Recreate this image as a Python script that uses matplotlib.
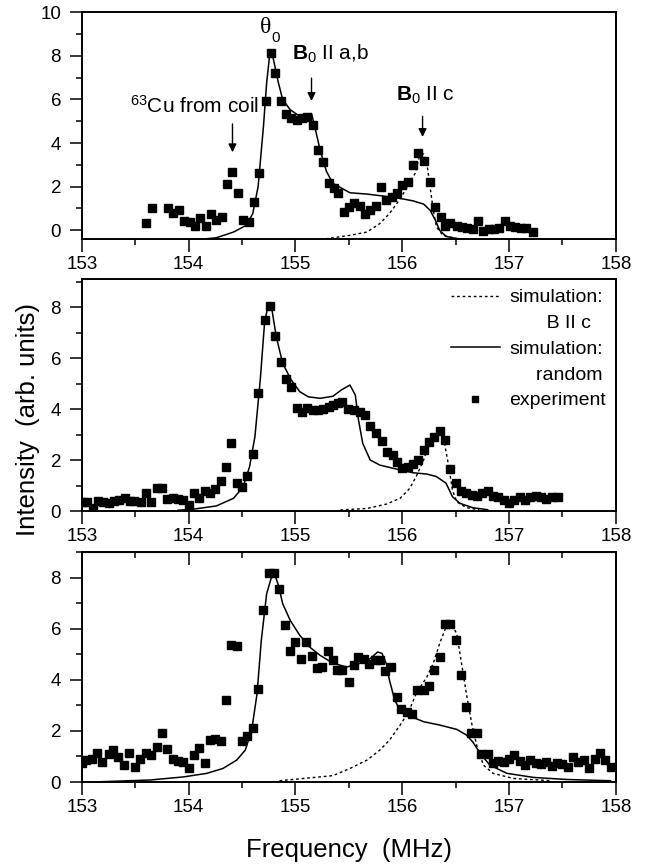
import matplotlib
matplotlib.use("Agg")
import matplotlib.pyplot as plt
from matplotlib.lines import Line2D
from matplotlib.ticker import MultipleLocator

plt.rcParams["font.family"] = ["Liberation Sans", "DejaVu Sans"]
plt.rcParams["mathtext.fontset"] = "custom"
plt.rcParams["mathtext.rm"] = "Liberation Sans"
plt.rcParams["mathtext.it"] = "Liberation Sans:italic"
plt.rcParams["mathtext.bf"] = "Liberation Sans:bold"

# ---- top panel ----
top_exp_f = [153.60, 153.66, 153.81, 153.85, 153.91, 153.96, 154.01, 154.06, 154.11, 154.16,
             154.21, 154.26, 154.31, 154.36, 154.41, 154.46, 154.51, 154.56, 154.61, 154.66,
             154.72, 154.77, 154.81, 154.86, 154.91, 154.96, 155.01, 155.06, 155.11, 155.16,
             155.21, 155.26, 155.31, 155.36, 155.40, 155.45, 155.50, 155.55, 155.60, 155.65,
             155.70, 155.75, 155.80, 155.85, 155.90, 155.95, 156.00, 156.05, 156.10, 156.15,
             156.20, 156.26, 156.31, 156.36, 156.40, 156.45, 156.51, 156.56, 156.61, 156.66,
             156.71, 156.76, 156.81, 156.86, 156.91, 156.96, 157.01, 157.06, 157.11, 157.16,
             157.22]
top_exp_i = [0.34, 1.0, 1.0, 0.77, 0.95, 0.43, 0.38, 0.22, 0.58, 0.22,
             0.74, 0.46, 0.61, 2.1, 2.67, 1.72, 0.49, 0.4, 1.3, 2.64,
             5.94, 8.14, 7.22, 5.91, 5.35, 5.15, 5.04, 5.15, 5.19, 4.84,
             3.69, 3.15, 2.15, 1.92, 1.72, 0.85, 1.05, 1.23, 1.1, 0.74,
             0.92, 1.1, 1.97, 1.38, 1.53, 1.69, 2.06, 2.23, 3.0, 3.53,
             3.19, 2.23, 1.07, 0.61, 0.18, 0.34, 0.18, 0.15, 0.12, 0.08,
             0.43, -0.03, 0.06, 0.06, 0.12, 0.43, 0.22, 0.15, 0.09, 0.09,
             -0.06]
top_rand_f = [154.00, 154.10, 154.26, 154.42, 154.54, 154.60, 154.65, 154.70, 154.73, 154.76,
              154.79, 154.84, 154.88, 154.95, 155.04, 155.12, 155.15, 155.18, 155.23, 155.29,
              155.35, 155.51, 155.67, 155.82, 155.98, 156.10, 156.20, 156.26, 156.31, 156.35,
              156.41, 156.51, 156.70]
top_rand_i = [-0.43, -0.42, -0.34, -0.08, 0.23, 0.77, 2.0, 4.76, 6.76, 8.11,
              7.91, 6.76, 5.99, 5.53, 5.22, 5.30, 5.35, 4.76, 3.69, 2.7,
              2.15, 1.72, 1.66, 1.57, 1.46, 1.35, 1.2, 0.92, 0.46, 0.0,
              -0.28, -0.38, -0.43]
top_bc_f = [155.23, 155.51, 155.67, 155.79, 155.88, 155.96, 156.04, 156.12, 156.16, 156.20,
            156.23, 156.26, 156.29, 156.32, 156.38, 156.51, 156.70]
top_bc_i = [-0.43, -0.23, -0.08, 0.31, 0.77, 1.3, 1.92, 2.61, 3.38, 3.5,
            3.07, 2.0, 0.92, 0.15, -0.23, -0.38, -0.43]

# ---- middle panel ----
mid_exp_f = [153.01, 153.05, 153.10, 153.15, 153.20, 153.25, 153.30, 153.35, 153.40, 153.45,
             153.49, 153.55, 153.60, 153.65, 153.70, 153.75, 153.80, 153.85, 153.90, 153.95,
             154.00, 154.05, 154.10, 154.15, 154.20, 154.25, 154.30, 154.35, 154.40, 154.45,
             154.50, 154.55, 154.60, 154.65, 154.71, 154.76, 154.81, 154.86, 154.91, 154.96,
             155.01, 155.06, 155.11, 155.16, 155.21, 155.26, 155.31, 155.35, 155.40, 155.44,
             155.49, 155.55, 155.60, 155.65, 155.70, 155.75, 155.81, 155.86, 155.91, 155.95,
             156.00, 156.05, 156.10, 156.15, 156.20, 156.25, 156.30, 156.35, 156.40, 156.45,
             156.50, 156.55, 156.60, 156.65, 156.70, 156.75, 156.80, 156.85, 156.90, 156.95,
             157.00, 157.05, 157.10, 157.15, 157.20, 157.25, 157.30, 157.35, 157.40, 157.46]
mid_exp_i = [0.36, 0.36, 0.13, 0.4, 0.36, 0.33, 0.4, 0.43, 0.5, 0.4,
             0.39, 0.36, 0.69, 0.36, 0.89, 0.89, 0.46, 0.5, 0.46, 0.43,
             0.24, 0.69, 0.5, 0.8, 0.69, 0.85, 1.16, 1.71, 2.65, 1.11,
             0.93, 1.37, 2.24, 4.62, 7.49, 8.04, 6.86, 5.85, 5.16, 4.87,
             4.03, 3.87, 4.05, 3.96, 3.96, 3.99, 4.07, 4.16, 4.22, 4.29,
             3.99, 3.96, 3.89, 3.76, 3.33, 3.05, 2.76, 2.33, 2.2, 1.93,
             1.67, 1.74, 1.84, 2.0, 2.39, 2.72, 2.89, 3.15, 2.78, 1.64,
             1.09, 0.8, 0.72, 0.63, 0.59, 0.69, 0.8, 0.59, 0.54, 0.43,
             0.33, 0.43, 0.56, 0.43, 0.56, 0.59, 0.56, 0.46, 0.56, 0.56]
mid_rand_f = [153.90, 154.04, 154.26, 154.42, 154.51, 154.57, 154.62, 154.67, 154.71, 154.74,
              154.78, 154.82, 154.88, 154.96, 155.04, 155.12, 155.23, 155.35, 155.43, 155.51,
              155.56, 155.59, 155.63, 155.70, 155.79, 155.95, 156.10, 156.23, 156.32, 156.41,
              156.47, 156.54, 156.66, 156.80]
mid_rand_i = [0.03, 0.07, 0.2, 0.5, 0.95, 1.74, 2.91, 5.14, 7.36, 8.01,
              7.88, 6.84, 5.79, 5.14, 4.68, 4.48, 4.42, 4.5, 4.75, 4.94,
              4.55, 3.57, 2.65, 2.0, 1.8, 1.64, 1.5, 1.45, 1.35, 1.09,
              0.56, 0.3, 0.13, 0.05]
mid_bc_f = [155.42, 155.67, 155.85, 155.98, 156.07, 156.13, 156.20, 156.26, 156.32, 156.35,
            156.39, 156.43, 156.47, 156.51, 156.60, 156.72]
mid_bc_i = [0.04, 0.1, 0.27, 0.5, 0.89, 1.35, 2.0, 2.72, 3.05, 3.18,
            2.78, 1.87, 0.82, 0.36, 0.13, 0.05]

# ---- bottom panel ----
bot_exp_f = [153.00, 153.04, 153.09, 153.14, 153.19, 153.25, 153.29, 153.34, 153.39, 153.44,
             153.50, 153.54, 153.60, 153.65, 153.70, 153.75, 153.80, 153.85, 153.90, 153.95,
             154.00, 154.05, 154.10, 154.15, 154.20, 154.25, 154.30, 154.35, 154.40, 154.45,
             154.50, 154.55, 154.60, 154.65, 154.70, 154.75, 154.80, 154.85, 154.90, 154.95,
             155.00, 155.05, 155.10, 155.15, 155.20, 155.25, 155.30, 155.35, 155.39, 155.44,
             155.50, 155.55, 155.59, 155.64, 155.69, 155.74, 155.79, 155.84, 155.89, 155.95,
             155.99, 156.04, 156.09, 156.14, 156.20, 156.25, 156.30, 156.35, 156.40, 156.45,
             156.50, 156.55, 156.60, 156.64, 156.70, 156.74, 156.80, 156.85, 156.90, 156.95,
             157.00, 157.05, 157.10, 157.15, 157.20, 157.25, 157.30, 157.35, 157.40, 157.45,
             157.50, 157.55, 157.60, 157.65, 157.70, 157.75, 157.80, 157.85, 157.90, 157.95]
bot_exp_i = [0.73, 0.86, 0.89, 1.12, 0.79, 1.09, 1.25, 0.96, 0.66, 1.14,
             0.6, 0.92, 1.12, 1.05, 1.38, 1.93, 1.29, 0.92, 0.82, 0.79,
             0.53, 1.05, 1.32, 0.75, 1.64, 1.68, 1.61, 3.2, 5.38, 5.34,
             1.6, 1.81, 2.12, 3.63, 6.75, 8.19, 8.19, 7.54, 6.16, 5.13,
             5.48, 4.8, 5.48, 4.93, 4.46, 4.5, 5.13, 4.79, 4.4, 4.38,
             3.92, 4.57, 4.9, 4.83, 4.61, 4.77, 4.79, 4.34, 4.5, 3.31,
             2.84, 2.75, 2.66, 3.62, 3.59, 3.75, 4.4, 4.9, 6.17, 6.17,
             5.55, 4.18, 2.92, 1.93, 1.93, 1.09, 1.08, 0.75, 0.83, 0.79,
             0.89, 1.05, 0.83, 0.66, 0.86, 0.73, 0.7, 0.79, 0.62, 0.75,
             0.7, 0.6, 0.99, 0.79, 0.86, 0.53, 0.92, 1.12, 0.86, 0.6]
bot_rand_f = [153.17, 153.64, 153.95, 154.17, 154.32, 154.45, 154.53, 154.59, 154.64, 154.68,
              154.73, 154.78, 154.80, 154.84, 154.88, 154.95, 155.04, 155.13, 155.23, 155.35,
              155.48, 155.60, 155.70, 155.77, 155.81, 155.85, 155.88, 155.93, 155.98, 156.07,
              156.20, 156.35, 156.51, 156.60, 156.66, 156.73, 156.82, 156.98, 157.23, 157.54,
              157.95]
bot_rand_i = [0.01, 0.08, 0.2, 0.34, 0.53, 0.86, 1.25, 2.03, 3.46, 5.55,
              7.37, 8.09, 8.2, 7.7, 6.98, 6.33, 5.74, 5.29, 4.96, 4.65,
              4.5, 4.64, 4.83, 5.09, 5.03, 4.64, 3.98, 3.2, 2.81, 2.58,
              2.36, 2.23, 2.06, 1.84, 1.57, 1.12, 0.66, 0.34, 0.18, 0.1,
              0.05]
bot_bc_f = [154.85, 155.35, 155.51, 155.67, 155.79, 155.88, 155.98, 156.06, 156.13, 156.23,
            156.29, 156.35, 156.41, 156.46, 156.51, 156.55, 156.60, 156.65, 156.70, 156.76,
            156.85, 157.04, 157.40]
bot_bc_i = [0.05, 0.25, 0.53, 0.86, 1.25, 1.64, 2.23, 2.75, 3.46, 4.11,
            4.64, 5.42, 6.07, 6.17, 5.81, 4.77, 3.46, 2.29, 1.38, 0.66,
            0.34, 0.14, 0.05]

x_ticks = [153, 154, 155, 156, 157, 158]
DOT = (0, (2, 2))

fig = plt.figure(figsize=(6.5, 8.67), dpi=100)
ax1 = fig.add_axes([0.126, 0.7243, 0.8215, 0.2618])
ax2 = fig.add_axes([0.126, 0.4106, 0.8215, 0.2676])
ax3 = fig.add_axes([0.126, 0.098, 0.8215, 0.2653])

panels = [
    (ax1, top_exp_f, top_exp_i, top_rand_f, top_rand_i, top_bc_f, top_bc_i, (-0.4, 10), [0, 2, 4, 6, 8, 10]),
    (ax2, mid_exp_f, mid_exp_i, mid_rand_f, mid_rand_i, mid_bc_f, mid_bc_i, (0, 9.1), [0, 2, 4, 6, 8]),
    (ax3, bot_exp_f, bot_exp_i, bot_rand_f, bot_rand_i, bot_bc_f, bot_bc_i, (0, 9.0), [0, 2, 4, 6, 8]),
]

for ax, ef, ei, rf, ri, bf, bi, ylim, yticks in panels:
    ax.plot(bf, bi, color="black", lw=1.0, linestyle=DOT)
    ax.plot(rf, ri, color="black", lw=1.1)
    ax.plot(ef, ei, linestyle="none", marker="s", ms=5.4, color="black")
    ax.set_xlim(153, 158)
    ax.set_ylim(*ylim)
    ax.set_xticks(x_ticks)
    ax.xaxis.set_minor_locator(MultipleLocator(0.5))
    ax.set_yticks(yticks)
    ax.yaxis.set_minor_locator(MultipleLocator(1))
    ax.tick_params(axis="both", which="major", direction="out", length=9, width=1.1, labelsize=13.5)
    ax.tick_params(axis="both", which="minor", direction="out", length=4.5, width=1.1)
    ax.tick_params(axis="y", which="major", pad=6)
    ax.tick_params(axis="x", which="major", pad=3)
    for spine in ax.spines.values():
        spine.set_linewidth(1.4)

# inward ticks along the top of the lowest panel
top_ax = ax3.secondary_xaxis("top")
top_ax.set_xticks(x_ticks)
top_ax.xaxis.set_minor_locator(MultipleLocator(0.5))
top_ax.tick_params(which="major", direction="in", length=9, width=1.1, labeltop=False)
top_ax.tick_params(which="minor", direction="in", length=4.5, width=1.1)
top_ax.set_xticklabels([])

# annotations, top panel
arrow = dict(arrowstyle="-|>", color="black", lw=1.0, mutation_scale=12)
ax1.text(154.72, 9.3, "θ", fontsize=17, family="Liberation Serif", ha="center", va="center")
ax1.text(154.77, 8.8, "0", fontsize=11, ha="left", va="center")
ax1.text(154.97, 8.1, r"$\mathbf{B}_0$ II a,b", fontsize=15, ha="left", va="center")
ax1.annotate("", xy=(155.15, 5.8), xytext=(155.15, 7.1), arrowprops=arrow)
ax1.text(155.94, 6.2, r"$\mathbf{B}_0$ II c", fontsize=15, ha="left", va="center")
ax1.annotate("", xy=(156.19, 4.15), xytext=(156.19, 5.35), arrowprops=arrow)
ax1.text(154.66, 5.7, r"$^{63}$Cu from coil", fontsize=15, ha="right", va="center")
ax1.annotate("", xy=(154.41, 3.45), xytext=(154.41, 5.0), arrowprops=arrow)

# legend, middle panel
blank = Line2D([], [], linestyle="none")
handles = [
    Line2D([], [], color="black", lw=1.0, linestyle=DOT),
    blank,
    Line2D([], [], color="black", lw=1.1),
    blank,
    Line2D([], [], linestyle="none", marker="s", ms=5, color="black"),
]
labels = ["simulation:", "       B II c", "simulation:", "     random", "experiment"]
ax2.legend(handles, labels, loc="upper right", frameon=False, fontsize=14,
           handlelength=2.5, handletextpad=0.5, labelspacing=0.42,
           borderaxespad=0.2, borderpad=0.3)

fig.text(0.537, 0.02, "Frequency  (MHz)", fontsize=18.5, ha="center", va="center")
fig.text(0.043, 0.516, "Intensity  (arb. units)", fontsize=18.5, ha="center", va="center", rotation=90)

fig.savefig("out.png", dpi=100)
